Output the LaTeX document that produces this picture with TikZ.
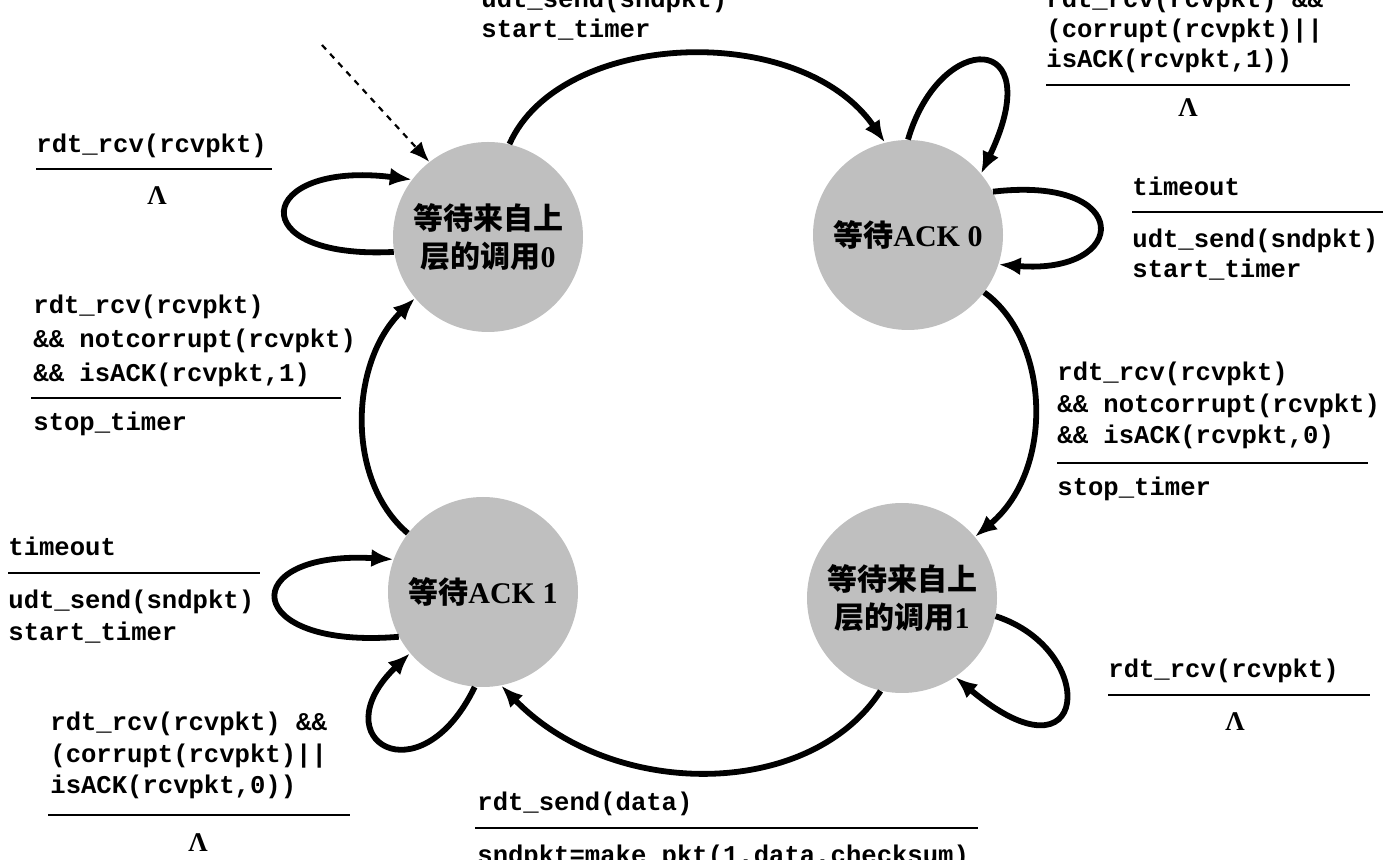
\documentclass[tikz,border=0pt]{standalone}
\usepackage{fontspec}
\usetikzlibrary{arrows.meta}
\newfontfamily\codefont{Liberation Mono}
\newfontfamily\cjkfont{Noto Sans CJK SC}
\newfontfamily\serfont{Liberation Serif}
\begin{document}
\begin{tikzpicture}[x=0.5pt,y=-0.5pt,
  fsmstate/.style={circle, fill=black!25, minimum size=95pt, inner sep=0pt, align=center,
    font=\fontsize{15}{19}\selectfont\bfseries},
  transarrow/.style={line width=2.9pt, -{Latex[length=11pt,width=9pt]}},
  codetxt/.style={anchor=west, inner sep=0pt, text height=9pt, text depth=3pt,
    font=\codefont\bfseries\fontsize{12.8}{16}\selectfont},
  sepline/.style={line width=1.4pt},
  lamtxt/.style={inner sep=0pt, font=\serfont\bfseries\fontsize{13.5}{13.5}\selectfont}
]
\useasboundingbox (0,0) rectangle (1383,860);

% states
\node[fsmstate] (s0) at (488,237) {{\cjkfont 等待来自上}\\{\cjkfont 层的调用}{\serfont 0}};
\node[fsmstate] (s1) at (908,235) {{\cjkfont 等待}{\serfont ACK 0}};
\node[fsmstate] (s2) at (902,598) {{\cjkfont 等待来自上}\\{\cjkfont 层的调用}{\serfont 1}};
\node[fsmstate] (s3) at (483,592) {{\cjkfont 等待}{\serfont ACK 1}};

% initial
\coordinate (init) at (322,45);
\draw[line width=1.1pt, dashed, -{Latex[length=10pt,width=8pt]}] (init) -- (s0.128);

% transitions
\draw[transarrow] (s0.77) .. controls (560,30) and (800,20) .. (s1.104);
\draw[transarrow] (s1.90) .. controls (940,30) and (1050,30) .. (s1.40);
\draw[transarrow] (s1.27) .. controls (1135,175) and (1130,275) .. (s1.-18);
\draw[transarrow] (s1.-37) .. controls (1050,340) and (1055,470) .. (s2.40);
\draw[transarrow] (s2.-11) .. controls (1100,650) and (1090,790) .. (s2.-56);
\draw[transarrow] (s2.-103) .. controls (810,800) and (612,800) .. (s3.-79);
\draw[transarrow] (s3.-95) .. controls (420,800) and (320,740) .. (s3.-140);
\draw[transarrow] (s3.208) .. controls (240,650) and (235,550) .. (s3.160);
\draw[transarrow] (s3.142) .. controls (345,480) and (350,362) .. (s0.220);
\draw[transarrow] (s0.189) .. controls (240,260) and (255,160) .. (s0.143);

% top centre label (s0 -> s1)
\node[codetxt] (t1a) at (481,2) {udt\_send(sndpkt)};
\node[codetxt] (t1b) at (481,32) {start\_timer};

% top right label (s1 loop)
\node[codetxt] (t2a) at (1046,2) {rdt\_rcv(rcvpkt) \&\&};
\node[codetxt] (t2b) at (1046,32) {(corrupt(rcvpkt)||};
\node[codetxt] (t2c) at (1046,62) {isACK(rcvpkt,1))};
\draw[sepline] (1046,85) -- (1350,85);
\node[lamtxt] (t2d) at (1188,108) {Λ};

% left top label (s0 loop)
\node[codetxt] (t3a) at (36,147) {rdt\_rcv(rcvpkt)};
\draw[sepline] (36,169) -- (272,169);
\node[lamtxt] (t3b) at (157,196) {Λ};

% left middle label (s3 -> s0)
\node[codetxt] (t4a) at (33,308) {rdt\_rcv(rcvpkt)};
\node[codetxt] (t4b) at (33,342) {\&\& notcorrupt(rcvpkt)};
\node[codetxt] (t4c) at (33,376) {\&\& isACK(rcvpkt,1)};
\draw[sepline] (31,398) -- (341,398);
\node[codetxt] (t4d) at (33,425) {stop\_timer};

% right top label (s1 timeout)
\node[codetxt] (t5a) at (1132,190) {timeout};
\draw[sepline] (1132,212) -- (1383,212);
\node[codetxt] (t5b) at (1132,242) {udt\_send(sndpkt)};
\node[codetxt] (t5c) at (1132,272) {start\_timer};

% right middle label (s1 -> s2)
\node[codetxt] (t6a) at (1057,375) {rdt\_rcv(rcvpkt)};
\node[codetxt] (t6b) at (1057,407) {\&\& notcorrupt(rcvpkt)};
\node[codetxt] (t6c) at (1057,438) {\&\& isACK(rcvpkt,0)};
\draw[sepline] (1057,463) -- (1368,463);
\node[codetxt] (t6d) at (1057,490) {stop\_timer};

% left lower label (s3 timeout)
\node[codetxt] (t7a) at (8,550) {timeout};
\draw[sepline] (8,573) -- (260,573);
\node[codetxt] (t7b) at (8,603) {udt\_send(sndpkt)};
\node[codetxt] (t7c) at (8,635) {start\_timer};

% bottom left label (s3 loop)
\node[codetxt] (t8a) at (50,725) {rdt\_rcv(rcvpkt) \&\&};
\node[codetxt] (t8b) at (50,757) {(corrupt(rcvpkt)||};
\node[codetxt] (t8c) at (50,788) {isACK(rcvpkt,0))};
\draw[sepline] (48,815) -- (350,815);
\node[lamtxt] (t8d) at (198,843) {Λ};

% right lower label (s2 loop)
\node[codetxt] (t9a) at (1108,672) {rdt\_rcv(rcvpkt)};
\draw[sepline] (1108,695) -- (1370,695);
\node[lamtxt] (t9b) at (1235,722) {Λ};

% bottom label (s2 -> s3)
\node[codetxt] (t10a) at (477,805) {rdt\_send(data)};
\draw[sepline] (475,828) -- (978,828);
\node[codetxt] (t10b) at (477,858) {sndpkt=make\_pkt(1,data,checksum)};
\end{tikzpicture}
\end{document}
